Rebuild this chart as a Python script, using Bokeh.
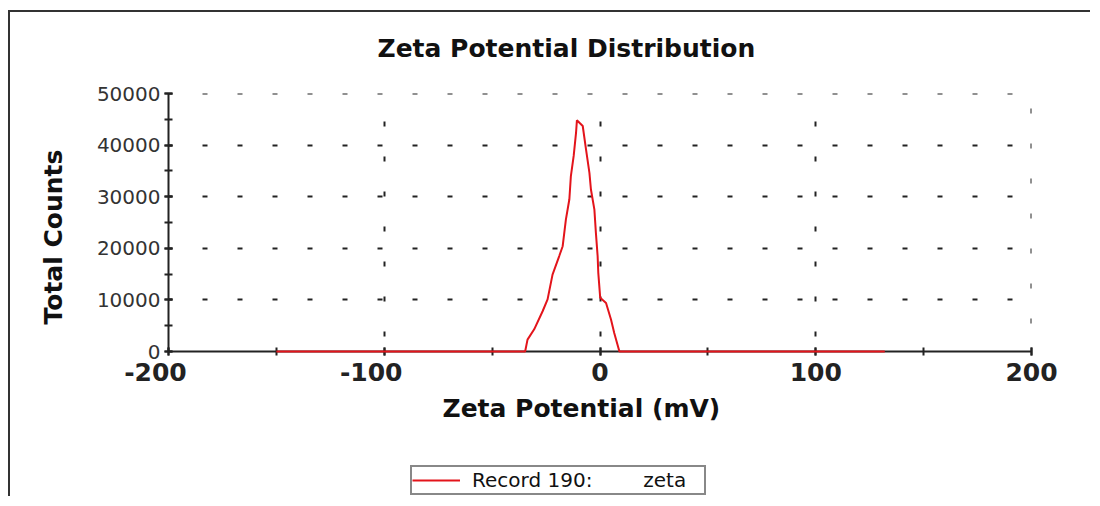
from bokeh.plotting import figure
from bokeh.layouts import column
from bokeh.models import (Range1d, SingleIntervalTicker, Title, Label,
                          Legend, LegendItem, Span, CustomJSTickFormatter)
from bokeh.embed import file_html
from bokeh.resources import INLINE

# ---- data ----
zeta_mv = [-150, -34.7, -33.6, -30.5, -26.6, -24.3, -22.0, -18.9, -17.3, -15.8,
           -14.2, -13.5, -12.2, -11.1, -10.7, -8.0, -6.5, -4.9, -4.2, -2.6,
           -1.9, -1.1, -0.8, 0.1, 2.8, 5.1, 6.6, 9.0, 132]
total_counts = [0, 0, 2300, 4300, 7800, 10100, 14900, 18500, 20400, 25600,
                29500, 34000, 37900, 42400, 44800, 43700, 39200, 34600, 31400, 27500,
                23000, 18500, 15300, 10400, 9400, 6200, 3600, 0, 0]
title_text = "Zeta Potential Distribution"
x_label_text = "Zeta Potential (mV)"
y_label_text = "Total Counts"
legend_text = "Record 190:" + "\u00a0" * 8 + "zeta"
x_range = (-200, 200)
y_range = (0, 50000)

INK = "#222222"
RED = "#e3141b"
FONT = "DejaVu Sans"
W = 1080


def strip(height):
    f = figure(width=W, height=height, output_backend="svg", toolbar_location=None,
               title=None, x_range=Range1d(*x_range), y_range=Range1d(-2, -1),
               x_axis_type=None, y_axis_type=None, min_border=0)
    f.outline_line_color = None
    f.background_fill_color = "white"
    f.border_fill_color = "white"
    return f


# ---- title strip (frame aligned with the chart's frame) ----
p0 = strip(70)
p0.add_layout(Label(x=209, y=34, x_units="screen", y_units="screen", text=title_text,
                    text_font=FONT, text_font_style="bold", text_font_size="25px",
                    text_align="left", text_baseline="alphabetic", text_color="#111111"))

# ---- main chart ----
H = 366
p = figure(width=W, height=H, output_backend="svg", toolbar_location=None, title=None,
           x_range=Range1d(*x_range), y_range=Range1d(*y_range),
           min_border_left=158, min_border_right=59,
           min_border_top=11, min_border_bottom=97)
p.outline_line_color = None
p.background_fill_color = "white"
p.border_fill_color = "white"

p.xaxis.ticker = SingleIntervalTicker(interval=100, num_minor_ticks=2)
p.yaxis.ticker = SingleIntervalTicker(interval=10000, num_minor_ticks=2)
for ax in (p.xaxis, p.yaxis):
    ax.axis_line_color = INK
    ax.axis_line_width = 2
    ax.major_tick_line_color = INK
    ax.major_tick_line_width = 2
    ax.minor_tick_line_color = INK
    ax.minor_tick_line_width = 2
    ax.major_tick_in = 4
    ax.major_tick_out = 4
    ax.minor_tick_in = 4
    ax.minor_tick_out = 4
    ax.major_label_text_font = FONT
    ax.major_label_text_color = INK
p.xaxis.formatter = CustomJSTickFormatter(
    code="return tick < 0 ? '-' + Math.abs(tick) + '\u00a0\u00a0\u00a0' : String(tick);")
p.xaxis.major_label_text_font_size = "25px"
p.xaxis.major_label_text_font_style = "bold"
p.xaxis.major_label_standoff = 2
p.yaxis.major_label_text_font_size = "20px"
p.yaxis.major_label_text_color = "#333333"
p.yaxis.major_label_standoff = 4

# grids: sparse short dashes
p.xgrid.ticker = SingleIntervalTicker(interval=100)
p.ygrid.ticker = SingleIntervalTicker(interval=10000)
p.xgrid.grid_line_color = INK
p.xgrid.grid_line_width = 2
p.xgrid.grid_line_dash = "5 30"
p.xgrid.grid_line_dash_offset = 20
p.ygrid.grid_line_color = INK
p.ygrid.grid_line_width = 2
p.ygrid.grid_line_dash = "5 30"
p.ygrid.grid_line_dash_offset = 1
# grid lines at the range ends (Bokeh's grid leaves these out)
p.add_layout(Span(location=x_range[1], dimension="height", line_color=INK, line_width=2,
                  line_dash="5 30", line_dash_offset=20, level="underlay"))
p.add_layout(Span(location=y_range[1], dimension="width", line_color=INK, line_width=2,
                  line_dash="5 30", line_dash_offset=1, level="underlay"))

# data line
r = p.line(zeta_mv, total_counts, line_color=RED, line_width=2, level="overlay")

# axis titles
p.add_layout(Title(text=x_label_text, align="left", offset=274, standoff=4,
                   text_font=FONT, text_font_style="bold", text_font_size="25px",
                   text_color="#111111"), "below")
p.add_layout(Title(text=y_label_text, align="left", offset=27, standoff=51,
                   text_font=FONT, text_font_style="bold", text_font_size="25px",
                   text_color="#111111"), "left")

# ---- legend strip ----
p2 = strip(48)
r2 = p2.line(zeta_mv, total_counts, line_color=RED, line_width=2)
legend = Legend(items=[LegendItem(label=legend_text, renderers=[r2])],
                location=(242, 1), padding=0, margin=0, spacing=0,
                glyph_width=48, glyph_height=26, label_standoff=12, label_width=232,
                label_text_font=FONT, label_text_font_size="20px", label_text_color="#111111",
                border_line_color="#111111", border_line_width=2,
                background_fill_color="white", background_fill_alpha=1.0)
p2.add_layout(legend, "center")

layout = column(p0, p, p2, spacing=0,
                styles={"border-left": "2px solid #333", "border-top": "2px solid #333",
                        "margin-left": "8px", "margin-top": "10px"})

open("out.html", "w").write(file_html(layout, INLINE))
